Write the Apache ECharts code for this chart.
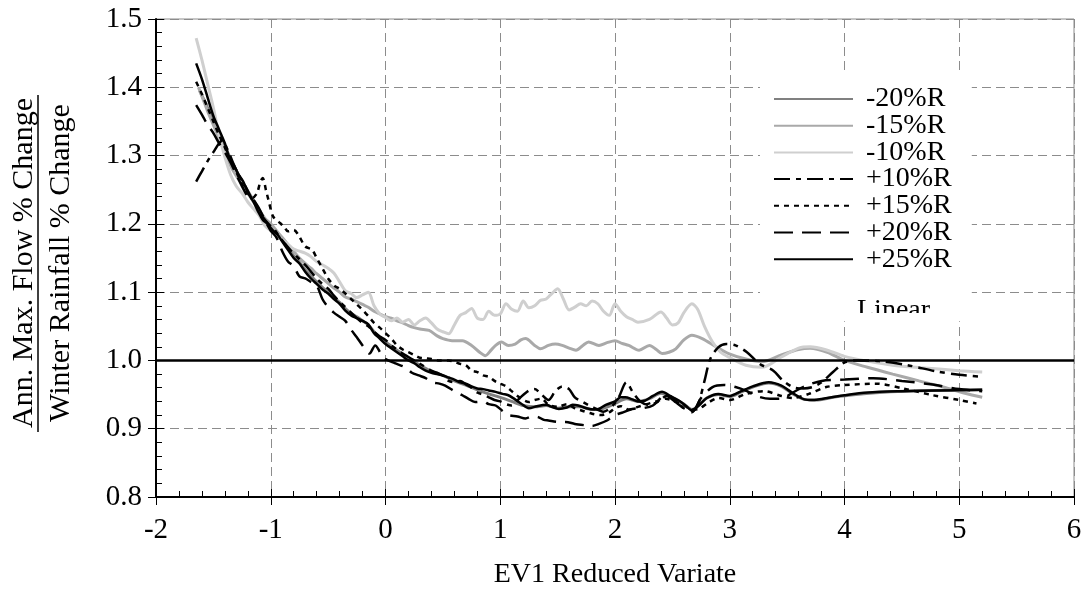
<!DOCTYPE html>
<html>
<head>
<meta charset="utf-8">
<title>Flow / rainfall ratio</title>
<script src="https://cdn.jsdelivr.net/npm/echarts@6/dist/echarts.min.js"></script>
<style>
  html, body { margin: 0; padding: 0; background: #fff; }
  #chart { width: 1086px; height: 594px; }
</style>
</head>
<body>
<div id="chart"></div>
<script>
// series: [EV1 reduced variate, ratio]
const minus20 = [[-1.62,1.395],[-1.55,1.37],[-1.5,1.35],[-1.45,1.332],[-1.4,1.314],[-1.35,1.295],[-1.3,1.278],[-1.25,1.262],[-1.2,1.248],[-1.15,1.234],[-1.1,1.22],[-1.05,1.206],[-1.0,1.196],[-0.95,1.186],[-0.9,1.176],[-0.85,1.165],[-0.8,1.153],[-0.75,1.144],[-0.7,1.133],[-0.65,1.124],[-0.6,1.115],[-0.55,1.107],[-0.5,1.1],[-0.45,1.092],[-0.4,1.085],[-0.35,1.076],[-0.3,1.069],[-0.25,1.064],[-0.2,1.058],[-0.15,1.052],[-0.1,1.042],[-0.05,1.034],[0,1.027],[0.1,1.015],[0.2,1.003],[0.3,0.993],[0.4,0.984],[0.5,0.978],[0.6,0.97],[0.7,0.964],[0.8,0.957],[0.9,0.951],[1.0,0.946],[1.1,0.94],[1.2,0.934],[1.3,0.932],[1.4,0.934],[1.5,0.93],[1.6,0.932],[1.7,0.932],[1.8,0.928],[1.9,0.93],[2.0,0.937],[2.1,0.944],[2.2,0.94],[2.3,0.944],[2.4,0.952],[2.5,0.945],[2.6,0.936],[2.67,0.928],[2.8,0.945],[2.9,0.95],[3.0,0.947],[3.1,0.954],[3.2,0.961],[3.34,0.967],[3.45,0.962],[3.55,0.951],[3.65,0.943],[3.75,0.942],[3.9,0.946],[4.1,0.95],[4.4,0.954],[4.8,0.956],[5.2,0.957]];

const minus15 = [[-1.63,1.4],[-1.55,1.365],[-1.5,1.345],[-1.45,1.325],[-1.4,1.305],[-1.35,1.285],[-1.3,1.27],[-1.25,1.258],[-1.2,1.245],[-1.15,1.232],[-1.1,1.22],[-1.05,1.208],[-1.0,1.2],[-0.95,1.19],[-0.9,1.18],[-0.85,1.17],[-0.8,1.16],[-0.75,1.15],[-0.7,1.142],[-0.65,1.135],[-0.6,1.127],[-0.55,1.12],[-0.5,1.113],[-0.45,1.106],[-0.4,1.1],[-0.35,1.093],[-0.3,1.09],[-0.25,1.086],[-0.2,1.082],[-0.15,1.078],[-0.1,1.072],[-0.05,1.068],[0,1.064],[0.05,1.062],[0.1,1.058],[0.15,1.055],[0.2,1.051],[0.25,1.048],[0.3,1.046],[0.38,1.044],[0.45,1.036],[0.5,1.032],[0.58,1.029],[0.67,1.029],[0.75,1.022],[0.82,1.012],[0.87,1.007],[0.92,1.015],[0.96,1.022],[1.01,1.027],[1.07,1.022],[1.13,1.024],[1.18,1.03],[1.22,1.032],[1.3,1.022],[1.35,1.017],[1.42,1.022],[1.48,1.024],[1.54,1.022],[1.6,1.018],[1.66,1.015],[1.72,1.022],[1.77,1.027],[1.86,1.022],[1.93,1.026],[2.0,1.029],[2.06,1.025],[2.12,1.022],[2.21,1.015],[2.3,1.022],[2.36,1.016],[2.41,1.01],[2.47,1.012],[2.53,1.017],[2.6,1.03],[2.67,1.037],[2.76,1.032],[2.88,1.02],[2.99,1.01],[3.14,1.002],[3.28,0.998],[3.45,1.008],[3.6,1.016],[3.7,1.018],[3.85,1.012],[4.0,1.0],[4.2,0.99],[4.42,0.98],[4.65,0.97],[4.86,0.961],[5.05,0.952],[5.2,0.946]];

const minus10 = [[-1.65,1.472],[-1.6,1.44],[-1.55,1.405],[-1.5,1.37],[-1.45,1.33],[-1.4,1.298],[-1.35,1.272],[-1.3,1.255],[-1.25,1.245],[-1.2,1.232],[-1.15,1.222],[-1.1,1.212],[-1.05,1.197],[-1.0,1.19],[-0.95,1.183],[-0.9,1.177],[-0.85,1.17],[-0.8,1.163],[-0.75,1.16],[-0.7,1.157],[-0.65,1.152],[-0.6,1.145],[-0.55,1.14],[-0.5,1.135],[-0.45,1.128],[-0.4,1.115],[-0.35,1.102],[-0.3,1.098],[-0.25,1.092],[-0.2,1.096],[-0.15,1.1],[-0.1,1.08],[-0.05,1.068],[0,1.063],[0.05,1.058],[0.1,1.062],[0.15,1.056],[0.2,1.06],[0.25,1.052],[0.3,1.058],[0.35,1.062],[0.4,1.055],[0.45,1.046],[0.5,1.042],[0.55,1.039],[0.6,1.052],[0.65,1.066],[0.7,1.07],[0.75,1.076],[0.8,1.062],[0.85,1.06],[0.9,1.072],[0.95,1.066],[1.0,1.068],[1.05,1.083],[1.1,1.075],[1.15,1.072],[1.2,1.087],[1.25,1.077],[1.3,1.08],[1.35,1.088],[1.4,1.09],[1.45,1.098],[1.5,1.105],[1.55,1.09],[1.6,1.074],[1.65,1.078],[1.7,1.083],[1.75,1.08],[1.8,1.087],[1.85,1.083],[1.9,1.072],[1.95,1.066],[2.0,1.083],[2.05,1.072],[2.1,1.064],[2.15,1.06],[2.2,1.056],[2.3,1.06],[2.4,1.071],[2.45,1.062],[2.5,1.052],[2.55,1.055],[2.6,1.07],[2.67,1.083],[2.72,1.075],[2.78,1.05],[2.85,1.027],[2.92,1.012],[3.0,1.004],[3.14,0.993],[3.28,0.99],[3.45,1.005],[3.6,1.018],[3.7,1.02],[3.85,1.015],[4.0,1.006],[4.2,0.999],[4.42,0.993],[4.7,0.989],[5.0,0.985],[5.2,0.983]];

const plus10 = [[-1.65,1.262],[-1.6,1.277],[-1.55,1.292],[-1.5,1.305],[-1.45,1.318],[-1.42,1.322],[-1.38,1.31],[-1.33,1.29],[-1.28,1.272],[-1.22,1.255],[-1.17,1.238],[-1.12,1.225],[-1.07,1.21],[-1.02,1.2],[-0.97,1.192],[-0.92,1.18],[-0.87,1.17],[-0.82,1.16],[-0.76,1.15],[-0.7,1.14],[-0.65,1.13],[-0.6,1.12],[-0.55,1.112],[-0.5,1.105],[-0.45,1.095],[-0.4,1.086],[-0.35,1.078],[-0.3,1.07],[-0.25,1.062],[-0.2,1.055],[-0.15,1.05],[-0.1,1.042],[-0.05,1.035],[0,1.03],[0.05,1.022],[0.1,1.016],[0.15,1.01],[0.2,1.005],[0.25,1.0],[0.3,0.995],[0.35,0.99],[0.4,0.985],[0.45,0.982],[0.5,0.978],[0.55,0.97],[0.6,0.968],[0.65,0.97],[0.7,0.965],[0.75,0.96],[0.8,0.953],[0.85,0.95],[0.9,0.946],[0.95,0.942],[1.0,0.94],[1.05,0.936],[1.1,0.934],[1.17,0.945],[1.25,0.956],[1.3,0.958],[1.36,0.95],[1.42,0.942],[1.48,0.955],[1.54,0.962],[1.6,0.958],[1.65,0.946],[1.72,0.939],[1.8,0.932],[1.9,0.925],[1.97,0.932],[2.03,0.945],[2.1,0.968],[2.15,0.955],[2.22,0.94],[2.3,0.935],[2.38,0.94],[2.45,0.948],[2.52,0.944],[2.6,0.93],[2.68,0.926],[2.73,0.939],[2.78,0.97],[2.83,1.002],[2.9,1.019],[2.97,1.024],[3.05,1.022],[3.15,1.012],[3.26,0.995],[3.38,0.985],[3.46,0.971],[3.55,0.961],[3.64,0.959],[3.72,0.961],[3.8,0.968],[3.9,0.983],[4.0,0.997],[4.1,1.0],[4.3,0.999],[4.55,0.993],[4.8,0.984],[5.0,0.979],[5.2,0.976]];

const plus15 = [[-1.65,1.408],[-1.6,1.39],[-1.55,1.37],[-1.5,1.35],[-1.45,1.33],[-1.4,1.312],[-1.35,1.293],[-1.3,1.276],[-1.25,1.258],[-1.2,1.245],[-1.16,1.238],[-1.12,1.245],[-1.09,1.262],[-1.07,1.267],[-1.04,1.248],[-1.02,1.235],[-0.98,1.211],[-0.93,1.203],[-0.88,1.195],[-0.85,1.189],[-0.8,1.191],[-0.76,1.184],[-0.7,1.167],[-0.64,1.162],[-0.6,1.15],[-0.55,1.135],[-0.5,1.12],[-0.45,1.11],[-0.4,1.105],[-0.35,1.098],[-0.3,1.09],[-0.25,1.082],[-0.2,1.074],[-0.15,1.065],[-0.1,1.055],[-0.05,1.048],[0,1.04],[0.05,1.032],[0.1,1.022],[0.15,1.016],[0.2,1.012],[0.25,1.008],[0.3,1.004],[0.35,1.003],[0.4,1.002],[0.47,1.0],[0.55,1.0],[0.6,0.998],[0.65,0.995],[0.7,0.993],[0.75,0.985],[0.8,0.983],[0.85,0.978],[0.9,0.976],[0.95,0.97],[1.0,0.966],[1.05,0.962],[1.1,0.955],[1.15,0.948],[1.2,0.942],[1.25,0.939],[1.3,0.942],[1.36,0.944],[1.42,0.935],[1.5,0.932],[1.58,0.936],[1.65,0.93],[1.72,0.926],[1.8,0.922],[1.88,0.92],[1.95,0.924],[2.0,0.93],[2.05,0.933],[2.12,0.928],[2.2,0.932],[2.28,0.936],[2.36,0.94],[2.44,0.944],[2.52,0.94],[2.6,0.935],[2.67,0.928],[2.73,0.929],[2.82,0.939],[2.9,0.945],[3.0,0.942],[3.14,0.951],[3.3,0.955],[3.45,0.948],[3.55,0.945],[3.69,0.951],[3.84,0.961],[4.0,0.964],[4.28,0.966],[4.51,0.959],[4.77,0.949],[5.0,0.942],[5.15,0.937]];

const plus20 = [[-1.65,1.374],[-1.6,1.36],[-1.55,1.345],[-1.5,1.333],[-1.45,1.318],[-1.4,1.305],[-1.35,1.29],[-1.3,1.272],[-1.25,1.255],[-1.2,1.24],[-1.15,1.235],[-1.1,1.222],[-1.05,1.205],[-1.0,1.19],[-0.95,1.18],[-0.9,1.16],[-0.85,1.145],[-0.8,1.138],[-0.75,1.123],[-0.7,1.12],[-0.65,1.115],[-0.6,1.11],[-0.55,1.09],[-0.5,1.078],[-0.45,1.07],[-0.4,1.064],[-0.35,1.058],[-0.3,1.045],[-0.25,1.034],[-0.2,1.022],[-0.14,1.01],[-0.09,1.022],[-0.04,1.01],[0,1.002],[0.08,0.996],[0.17,0.99],[0.23,0.982],[0.29,0.978],[0.35,0.974],[0.41,0.968],[0.47,0.966],[0.52,0.963],[0.6,0.955],[0.67,0.949],[0.72,0.944],[0.78,0.939],[0.85,0.94],[0.9,0.936],[0.96,0.934],[1.02,0.926],[1.07,0.92],[1.15,0.918],[1.22,0.915],[1.28,0.918],[1.33,0.917],[1.38,0.913],[1.42,0.912],[1.5,0.91],[1.57,0.91],[1.65,0.907],[1.74,0.905],[1.8,0.904],[1.86,0.907],[1.93,0.912],[2.0,0.92],[2.07,0.924],[2.15,0.929],[2.24,0.93],[2.33,0.934],[2.44,0.949],[2.52,0.94],[2.6,0.93],[2.67,0.924],[2.75,0.945],[2.85,0.961],[2.95,0.964],[3.05,0.961],[3.15,0.955],[3.25,0.947],[3.35,0.944],[3.45,0.944],[3.55,0.953],[3.65,0.962],[3.8,0.97],[4.0,0.972],[4.25,0.974],[4.5,0.97],[4.75,0.965],[5.0,0.958],[5.2,0.955]];

const plus25 = [[-1.65,1.435],[-1.6,1.412],[-1.55,1.385],[-1.5,1.358],[-1.45,1.338],[-1.4,1.318],[-1.36,1.296],[-1.32,1.285],[-1.28,1.272],[-1.24,1.262],[-1.2,1.246],[-1.15,1.232],[-1.11,1.218],[-1.07,1.206],[-1.03,1.2],[-0.98,1.19],[-0.94,1.184],[-0.9,1.174],[-0.85,1.162],[-0.8,1.15],[-0.75,1.142],[-0.7,1.13],[-0.65,1.12],[-0.6,1.112],[-0.55,1.104],[-0.5,1.098],[-0.45,1.09],[-0.4,1.083],[-0.35,1.073],[-0.3,1.066],[-0.25,1.062],[-0.2,1.058],[-0.15,1.053],[-0.1,1.04],[-0.05,1.032],[0,1.024],[0.05,1.018],[0.1,1.012],[0.15,1.006],[0.2,1.0],[0.25,0.996],[0.3,0.99],[0.35,0.985],[0.4,0.982],[0.45,0.98],[0.5,0.978],[0.55,0.975],[0.6,0.972],[0.65,0.968],[0.7,0.966],[0.75,0.962],[0.8,0.959],[0.85,0.958],[0.9,0.956],[0.96,0.954],[1.02,0.951],[1.07,0.949],[1.12,0.944],[1.18,0.937],[1.25,0.93],[1.32,0.933],[1.4,0.935],[1.45,0.932],[1.51,0.929],[1.58,0.931],[1.63,0.935],[1.68,0.934],[1.75,0.93],[1.82,0.928],[1.86,0.929],[1.92,0.935],[2.0,0.94],[2.05,0.946],[2.09,0.946],[2.15,0.943],[2.2,0.94],[2.26,0.941],[2.33,0.948],[2.41,0.954],[2.48,0.948],[2.56,0.941],[2.62,0.933],[2.67,0.927],[2.73,0.934],[2.8,0.945],[2.9,0.951],[3.0,0.948],[3.1,0.955],[3.2,0.962],[3.34,0.968],[3.45,0.963],[3.55,0.952],[3.65,0.943],[3.72,0.942],[3.85,0.945],[4.0,0.949],[4.2,0.953],[4.5,0.955],[4.8,0.956],[5.2,0.957]];

// the ratio = 1 reference line
const linear = [[-2, 1], [6, 1]];

const serif = '"Liberation Serif", "Times New Roman", serif';

const chart = echarts.init(document.getElementById('chart'));

function curve(name, data, color, width, type, z) {
  return {
    name: name,
    type: 'line',
    data: data,
    symbol: 'none',
    smooth: 0.3,
    z: z,
    lineStyle: { color: color, width: width, type: type },
    itemStyle: { color: color },
  };
}

const option = {
  animation: false,
  grid: { left: 156, right: 12, top: 19, bottom: 97, show: true, borderColor: '#8c8c8c', borderWidth: 1 },
  legend: {
    orient: 'vertical',
    left: 760,
    top: 75,
    backgroundColor: '#fff',
    padding: [10, 20, 48, 13],
    itemWidth: 79,
    itemHeight: 14,
    itemGap: -1.3,
    itemStyle: { opacity: 0 },
    textStyle: { fontFamily: serif, fontSize: 28, color: '#000', padding: [0, 0, 0, 8] },
    data: ['-20%R', '-15%R', '-10%R', '+10%R', '+15%R', '+20%R', '+25%R'],
  },
  xAxis: [
    {
      type: 'value', min: -2, max: 6, interval: 1,
      name: 'EV1 Reduced Variate', nameLocation: 'middle', nameGap: 64,
      nameTextStyle: { fontFamily: serif, fontSize: 28, color: '#000' },
      axisLine: { onZero: false, lineStyle: { color: '#000', width: 2 } },
      axisTick: { length: 8, lineStyle: { color: '#000' } },
      axisLabel: { fontFamily: serif, fontSize: 29, color: '#000', margin: 19 },
      splitLine: { show: true, lineStyle: { color: '#8c8c8c', type: [9, 5], width: 1 } },
    },
    {
      type: 'value', min: -2, max: 6, interval: 1, position: 'bottom',
      axisLine: { show: false, onZero: false },
      axisTick: { inside: true, length: 8, lineStyle: { color: '#000' } },
      minorTick: { show: true, splitNumber: 5, length: 6, lineStyle: { color: '#000' } },
      axisLabel: { show: false },
      splitLine: { show: false },
    },
  ],
  yAxis: [
    {
      type: 'value', min: 0.8, max: 1.5, interval: 0.1,
      axisLine: { show: true, onZero: false, lineStyle: { color: '#000', width: 2 } },
      axisTick: { show: true, length: 8, lineStyle: { color: '#000' } },
      axisLabel: { fontFamily: serif, fontSize: 29, color: '#000', margin: 14, formatter: v => v.toFixed(1) },
      splitLine: { show: true, lineStyle: { color: '#8c8c8c', type: [9, 5], width: 1 } },
    },
    {
      type: 'value', min: 0.8, max: 1.5, interval: 0.1, position: 'left',
      axisLine: { show: false, onZero: false },
      axisTick: { show: true, inside: true, length: 8, lineStyle: { color: '#000' } },
      minorTick: { show: true, splitNumber: 5, length: 6, lineStyle: { color: '#000' } },
      axisLabel: { show: false },
      splitLine: { show: false },
    },
  ],
  series: [
    curve('-20%R', minus20, '#808080', 3, 'solid', 2),
    curve('-15%R', minus15, '#a9a9a9', 3, 'solid', 2),
    curve('-10%R', minus10, '#cfcfcf', 3, 'solid', 2),
    curve('+10%R', plus10, '#000', 2.5, [16, 6, 5, 6], 3),
    curve('+15%R', plus15, '#000', 2.5, [5, 5], 3),
    curve('+20%R', plus20, '#000', 2.5, [19, 9], 3),
    curve('+25%R', plus25, '#000', 2.5, 'solid', 3),
    {
      name: 'Linear', type: 'line', data: linear, symbol: 'none', z: 4,
      lineStyle: { color: '#000', width: 2.5 },
    },
  ],
  graphic: [
    {
      type: 'text', z: 10, left: 857, top: 297,
      style: { text: 'Linear', font: '28px ' + serif, fill: '#000' },
    },
    {
      type: 'rect', z: 11, shape: { x: 850, y: 313, width: 100, height: 25 },
      style: { fill: '#fff' },
    },
    {
      type: 'text', z: 10, x: 24, y: 263, rotation: Math.PI / 2,
      style: { text: 'Ann. Max. Flow % Change', font: '30px ' + serif, fill: '#000', align: 'center', verticalAlign: 'middle' },
    },
    {
      type: 'line', z: 10, shape: { x1: 38, y1: 95, x2: 38, y2: 432 },
      style: { stroke: '#000', lineWidth: 1.5 },
    },
    {
      type: 'text', z: 10, x: 61, y: 263, rotation: Math.PI / 2,
      style: { text: 'Winter Rainfall % Change', font: '30px ' + serif, fill: '#000', align: 'center', verticalAlign: 'middle' },
    },
  ],
};

chart.setOption(option);
</script>
</body>
</html>
